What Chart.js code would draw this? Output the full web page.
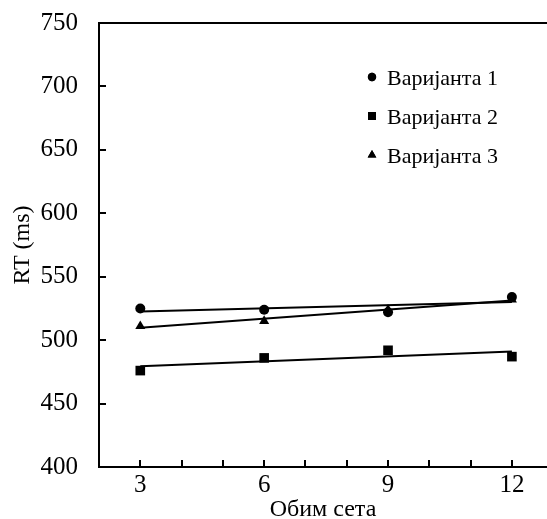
<!DOCTYPE html>
<html>
<head>
<meta charset="utf-8">
<script src="https://cdn.jsdelivr.net/npm/chart.js@4"></script>
<style>
  html, body { margin: 0; padding: 0; background: #fff; }
  #wrap { width: 547px; height: 519px; }
</style>
</head>
<body>
<div id="wrap"><canvas id="myChart"></canvas></div>
<script>
// set sizes and mean RT per variant
const setSizes = [3, 6, 9, 12];
const variant1 = [525, 524, 522, 534];
const variant2 = [476, 486, 492, 487];
const variant3 = [511, 515, 524, 532];
const seriesNames = ['Варијанта 1', 'Варијанта 2', 'Варијанта 3'];
const xTickLabels = [3, 6, 9, 12];
const yTickLabels = [400, 450, 500, 550, 600, 650, 700, 750];

const FONT = "'Liberation Serif', 'Times New Roman', serif";
const ctx = document.getElementById('myChart');

// least squares line through the points, drawn from first to last set size
function fitLine(xs, ys) {
  const n = xs.length;
  const mx = xs.reduce((a, b) => a + b, 0) / n;
  const my = ys.reduce((a, b) => a + b, 0) / n;
  let num = 0, den = 0;
  xs.forEach((x, i) => { num += (x - mx) * (ys[i] - my); den += (x - mx) * (x - mx); });
  const slope = num / den;
  const x0 = xs[0], x1 = xs[n - 1];
  return [{x: x0, y: my + slope * (x0 - mx)}, {x: x1, y: my + slope * (x1 - mx)}];
}

const series = [
  {label: seriesNames[0], data: variant1, style: 'circle', radius: 5, legendRadius: 4.2},
  {label: seriesNames[1], data: variant2, style: 'rect', radius: 6.8, legendRadius: 5.6},
  {label: seriesNames[2], data: variant3, style: 'triangle', radius: 5.8, legendRadius: 5}
];

const datasets = [];
series.forEach(s => {
  datasets.push({
    label: s.label + ' trend',
    data: fitLine(setSizes, s.data),
    showLine: true,
    borderColor: '#000',
    borderWidth: 2,
    pointRadius: 0,
    isTrend: true
  });
});
series.forEach(s => {
  datasets.push({
    label: s.label,
    data: setSizes.map((x, i) => ({x, y: s.data[i]})),
    pointStyle: s.style,
    pointRadius: s.radius,
    legendRadius: s.legendRadius,
    backgroundColor: '#000',
    borderColor: '#000',
    borderWidth: 0,
    showLine: false
  });
});

// inward ticks, top border and the legend inside the plot
const extras = {
  id: 'extras',
  afterDraw(chart) {
    const c = chart.ctx;
    const xs = chart.scales.x, ys = chart.scales.y;
    const area = chart.chartArea;
    c.save();
    c.strokeStyle = '#000';
    c.lineWidth = 2;
    c.beginPath();
    c.moveTo(area.left - 1, area.top);
    c.lineTo(area.right, area.top);
    yTickLabels.forEach(v => {
      const py = Math.round(ys.getPixelForValue(v));
      c.moveTo(area.left, py);
      c.lineTo(area.left + 7, py);
    });
    for (let v = setSizes[0]; v <= setSizes[setSizes.length - 1]; v++) {
      const px = Math.round(xs.getPixelForValue(v));
      c.moveTo(px, area.bottom);
      c.lineTo(px, area.bottom - 7);
    }
    c.stroke();

    c.font = '22px ' + FONT;
    c.fillStyle = '#000';
    c.textBaseline = 'alphabetic';
    const rows = [77, 116, 155];
    chart.data.datasets.filter(d => !d.isTrend).forEach((d, i) => {
      Chart.helpers.drawPoint(c, {pointStyle: d.pointStyle, radius: d.legendRadius, borderWidth: 0}, 372, rows[i]);
      c.fill();
      c.fillText(d.label, 387, rows[i] + 8);
    });
    c.restore();
  }
};

new Chart(ctx, {
  type: 'scatter',
  data: {datasets},
  options: {
    responsive: true,
    maintainAspectRatio: false,
    animation: false,
    layout: {autoPadding: false, padding: {top: 23, right: 0, left: 0, bottom: 0}},
    plugins: {legend: {display: false}, tooltip: {enabled: false}},
    scales: {
      x: {
        type: 'linear',
        min: 2,
        max: 12.85,
        afterBuildTicks: scale => { scale.ticks = xTickLabels.map(v => ({value: v})); },
        afterFit: scale => { scale.height = 52; scale.paddingLeft = 0; scale.paddingRight = 0; },
        grid: {display: false, drawTicks: false},
        border: {display: true, color: '#000', width: 2},
        ticks: {color: '#000', font: {family: FONT, size: 25}, padding: 3, maxRotation: 0, autoSkip: false},
        title: {display: true, text: 'Обим сета', color: '#000', font: {family: FONT, size: 24}, padding: {top: 0, bottom: -5}}
      },
      y: {
        min: 400,
        max: 750,
        afterBuildTicks: scale => { scale.ticks = yTickLabels.map(v => ({value: v})); },
        afterFit: scale => { scale.width = 99; scale.paddingTop = 0; scale.paddingBottom = 0; },
        grid: {display: false, drawTicks: false},
        border: {display: true, color: '#000', width: 2},
        ticks: {color: '#000', font: {family: FONT, size: 25}, padding: 21},
        title: {display: true, text: 'RT (ms)', color: '#000', font: {family: FONT, size: 24}, padding: {top: 8, bottom: 0}}
      }
    }
  },
  plugins: [extras]
});
</script>
</body>
</html>
